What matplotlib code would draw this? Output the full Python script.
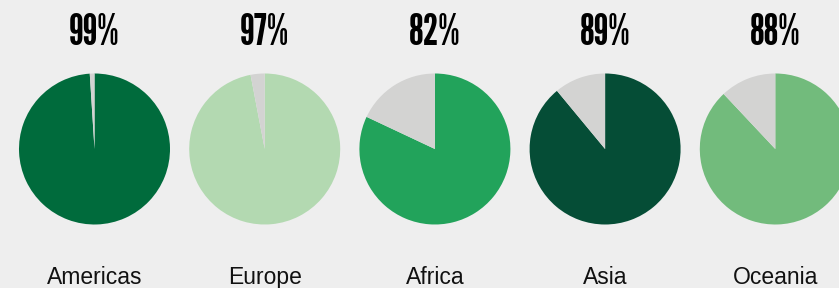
import matplotlib.pyplot as plt

regions = ["Americas", "Europe", "Africa", "Asia", "Oceania"]
shares = [99, 97, 82, 89, 88]
colors = ["#006b3c", "#b3d9b1", "#22a35b", "#054d36", "#72bb7c"]
rest_color = "#d3d3d2"
bg = "#eeeeee"

W, H = 839, 288
fig = plt.figure(figsize=(W / 100, H / 100), dpi=100, facecolor=bg)

# pie centres in pixels (from the top left), radius in pixels
cx0, step, cy, r = 94.5, 170.2, 149, 75.5

for i, (name, pct, col) in enumerate(zip(regions, shares, colors)):
    cx = cx0 + i * step
    ax = fig.add_axes([(cx - r) / W, (H - cy - r) / H, 2 * r / W, 2 * r / H])
    ax.pie([pct, 100 - pct], colors=[col, rest_color], startangle=90,
           counterclock=False, radius=1, wedgeprops={"linewidth": 0})
    ax.set_xlim(-1, 1)
    ax.set_ylim(-1, 1)
    ax.set_aspect("equal")
    ax.axis("off")

    fig.text(cx / W, (H - 45) / H, f"{pct}%", ha="center", va="baseline",
             fontsize=31, family=["League Gothic", "DejaVu Sans"],
             color="#000000")
    fig.text(cx / W, (H - 284) / H, name, ha="center", va="baseline",
             fontsize=16.5, family=["Liberation Sans", "DejaVu Sans"],
             color="#111111")

fig.savefig("out.png", dpi=100, facecolor=bg)
